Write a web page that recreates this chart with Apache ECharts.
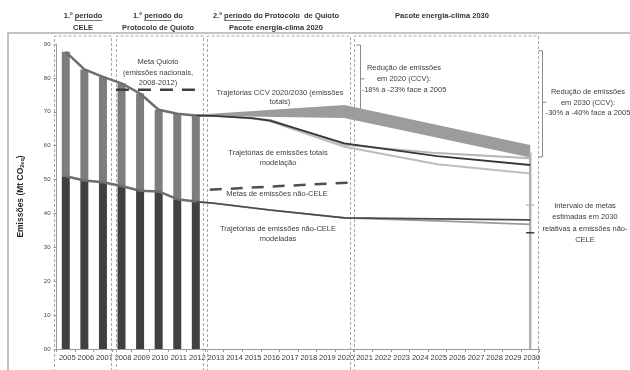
<!DOCTYPE html>
<html>
<head>
<meta charset="utf-8">
<script src="https://cdn.jsdelivr.net/npm/echarts@6/dist/echarts.min.js"></script>
<style>
  html, body { margin: 0; padding: 0; background: #ffffff; }
  #chart { width: 630px; height: 370px; }
</style>
</head>
<body>
<div id="chart"></div>
<script>
// ---- data (Mt CO2eq) ----
const categories = ['2005','2006','2007','2008','2009','2010','2011','2012','2013','2014','2015','2016','2017',
  '2018','2019','2020','2021','2022','2023','2024','2025','2026','2027','2028','2029','2030'];
const yTickLabels = ['00','10','20','30','40','50','60','70','80','90'];

const histYears   = [2005, 2006, 2007, 2008, 2009, 2010, 2011, 2012];
const totalHist   = [87.7, 82.5, 80.3, 78.4, 75.4, 70.6, 69.4, 68.9];
const nonCeleHist = [51.0, 49.7, 49.2, 48.1, 46.7, 46.5, 44.2, 43.5];

const ccvYears = [2012, 2020, 2030];
const ccvLow   = [68.8, 68.2, 56.5];
const ccvHigh  = [69.1, 72.0, 60.2];

const modelYears = [2012, 2013, 2015, 2016, 2020, 2025, 2030];
const modelDark  = [68.9, 68.8, 68.1, 67.4, 60.7, 56.9, 54.3];
const modelMid   = [68.9, 68.8, 68.1, 67.6, 60.3, 57.8, 56.3];
const modelLight = [68.9, 68.8, 68.1, 67.2, 59.7, 54.5, 51.8];

const nonCeleModelYears = [2012, 2013, 2016, 2020, 2025, 2030];
const nonCeleModelDark  = [43.5, 43.0, 41.0, 38.7, 38.4, 38.1];
const nonCeleModelLight = [43.5, 43.0, 41.0, 38.7, 37.8, 36.8];

const kyotoYears = [2008, 2012];
const kyotoTarget = 76.5;
const nonCeleTargetYears = [2013, 2020];
const nonCeleTarget = [47.0, 49.1];

const targetYear2030 = 2030;
const target2030Span = [0, 58];
const target2030Upper = 42.5;
const target2030Lower = 34.3;

// ---- helpers ----
const FONT = "'Liberation Sans Narrow', 'Liberation Sans', Arial, sans-serif";
const pairs = (xs, ys) => xs.map((x, i) => [x, ys[i]]);
const celeHist = totalHist.map((t, i) => +(t - nonCeleHist[i]).toFixed(1));
const pad = (arr) => categories.map((c) => {
  const i = histYears.indexOf(+c);
  return i >= 0 ? arr[i] : null;
});

function lineSeries(data, color, width, extra) {
  return Object.assign({
    type: 'line', xAxisIndex: 1, yAxisIndex: 0, data: data,
    showSymbol: false, symbol: 'none', silent: true,
    lineStyle: { color: color, width: width }
  }, extra || {});
}

const chart = echarts.init(document.getElementById('chart'), null, { renderer: 'canvas' });

const option = {
  animation: false,
  backgroundColor: '#ffffff',
  textStyle: { fontFamily: FONT },
  grid: { left: 56.5, right: 90.5, top: 44, bottom: 21 },
  xAxis: [
    {
      type: 'category', data: categories, boundaryGap: true,
      axisLine: { lineStyle: { color: '#9a9a9a', width: 1 } },
      axisTick: { show: true, length: 3, lineStyle: { color: '#9a9a9a' } },
      axisLabel: { color: '#3a3a3a', fontSize: 7.5, fontFamily: FONT, margin: 5, padding: [0, 0, 0, 3], interval: 0 }
    },
    { type: 'value', min: 2004.5, max: 2030.5, show: false }
  ],
  yAxis: {
    type: 'value', min: 0, max: 90, interval: 10,
    name: 'Emissões (Mt CO{sub|2eq})', nameLocation: 'middle', nameGap: 31, nameRotate: 90,
    nameTextStyle: {
      color: '#2a2a2a', fontSize: 8.5, fontWeight: 'bold', fontFamily: FONT,
      rich: { sub: { fontSize: 5.5, fontWeight: 'bold', verticalAlign: 'bottom', padding: [3, 0, 0, 0] } }
    },
    axisLine: { show: true, lineStyle: { color: '#9a9a9a' } },
    axisTick: { show: true, length: 3, lineStyle: { color: '#9a9a9a' } },
    splitLine: { show: false },
    axisLabel: { color: '#444', fontSize: 6, fontFamily: FONT, margin: 6,
      formatter: (v) => yTickLabels[Math.round(v / 10)] }
  },
  series: [
    { type: 'bar', name: 'não-CELE', stack: 'hist', data: pad(nonCeleHist), barWidth: 8,
      itemStyle: { color: '#404040' }, silent: true, z: 2 },
    { type: 'bar', name: 'CELE', stack: 'hist', data: pad(celeHist), barWidth: 8,
      itemStyle: { color: '#7d7d7d' }, silent: true, z: 2 },
    {
      type: 'custom', name: 'Trajetórias CCV', xAxisIndex: 1, yAxisIndex: 0,
      data: [[ccvYears[1], ccvHigh[1]]], silent: true, z: 3,
      renderItem: function (params, api) {
        const pts = [];
        ccvYears.forEach((y, i) => pts.push(api.coord([y, ccvHigh[i]])));
        for (let i = ccvYears.length - 1; i >= 0; i--) pts.push(api.coord([ccvYears[i], ccvLow[i]]));
        return { type: 'polygon', shape: { points: pts }, style: { fill: '#9c9c9c' } };
      }
    },
    lineSeries(pairs(histYears, totalHist), '#6e6e6e', 2.5, { z: 4 }),
    lineSeries(pairs(histYears, nonCeleHist), '#6e6e6e', 2.5, { z: 4 }),
    lineSeries(pairs(modelYears, modelMid), '#b4b4b4', 2, { z: 5 }),
    lineSeries(pairs(modelYears, modelLight), '#bdbdbd', 2, { z: 5 }),
    lineSeries(pairs(modelYears, modelDark), '#383838', 1.8, { z: 6 }),
    lineSeries(pairs(nonCeleModelYears, nonCeleModelLight), '#9a9a9a', 1.8, { z: 5 }),
    lineSeries(pairs(nonCeleModelYears, nonCeleModelDark), '#4a4a4a', 1.6, { z: 6 }),
    // Kyoto target (national emissions 2008-2012)
    lineSeries([[kyotoYears[0] - 0.3, kyotoTarget], [kyotoYears[1] + 0.33, kyotoTarget]], '#404040', 2.5,
      { lineStyle: { color: '#404040', width: 2.5, type: [13, 9] }, z: 7 }),
    // non-CELE targets
    lineSeries([[nonCeleTargetYears[0] - 0.25, nonCeleTarget[0]], [nonCeleTargetYears[1] + 0.2, nonCeleTarget[1]]], '#505050', 2.5,
      { lineStyle: { color: '#505050', width: 2.5, type: [12, 9] }, z: 7 }),
    // 2030 interval of non-CELE targets
    lineSeries([[targetYear2030, target2030Span[0]], [targetYear2030, target2030Span[1]]], '#b0b0b0', 2.5, { z: 4 }),
    lineSeries([[targetYear2030 - 0.22, target2030Upper], [targetYear2030 + 0.22, target2030Upper]], '#bdbdbd', 1.5, { z: 8 }),
    lineSeries([[targetYear2030 - 0.22, target2030Lower], [targetYear2030 + 0.22, target2030Lower]], '#3a3a3a', 1.5, { z: 8 })
  ]
};
chart.setOption(option);

// ---- period boxes, frame, brackets and notes ----
const px = (year) => chart.convertToPixel({ xAxisIndex: 1 }, year);
const py = (v) => chart.convertToPixel({ yAxisIndex: 0 }, v);

const periodBounds = [[2004.36, 2007.43], [2007.70, 2012.37], [2012.59, 2020.30], [2020.51, 2030.42]];
const boxTop = 36, boxBottom = 372;
const graphics = [];
const dashStyle = { stroke: '#a8a8a8', lineWidth: 1, lineDash: [3, 2] };

periodBounds.forEach(([a, b]) => {
  const x1 = Math.round(px(a)) + 0.5, x2 = Math.round(px(b)) + 0.5;
  graphics.push({ type: 'polyline', silent: true, z: 1,
    shape: { points: [[x1, boxBottom], [x1, boxTop], [x2, boxTop], [x2, boxBottom]] }, style: Object.assign({ fill: null }, dashStyle) });
});

// outer frame
graphics.push({ type: 'polyline', silent: true, shape: { points: [[8, 372], [8, 33], [632, 33]] },
  style: { stroke: '#b0b0b0', lineWidth: 1.5, fill: null } });

// brackets
function bracket(year, vTop, vBottom, vMid, hook, notch) {
  const x = Math.round(px(year)) + 0.5, yt = py(vTop), yb = py(vBottom), ym = py(vMid);
  graphics.push({ type: 'polyline', silent: true, shape: { points: [[x - hook, yt], [x, yt], [x, yb], [x - hook, yb]] },
    style: { stroke: '#8a8a8a', lineWidth: 1, fill: null } });
  graphics.push({ type: 'line', silent: true, shape: { x1: x, y1: ym, x2: x + notch, y2: ym },
    style: { stroke: '#8a8a8a', lineWidth: 1 } });
}
bracket(2020.84, 89.7, 69.6, 79.7, 4, 4);
bracket(2030.66, 88.0, 56.7, 72.8, 4, 4);

// notes
function note(x, y, text, opts) {
  graphics.push({ type: 'text', silent: true, z: 20, x: x, y: y,
    style: Object.assign({ text: text, fill: '#3c3c3c', font: '7.5px ' + FONT, textAlign: 'center', textVerticalAlign: 'top', lineHeight: 10.5 }, opts || {}) });
}
note(158, 57, 'Meta Quioto\n(emissões nacionais,\n2008-2012)');
note(280, 88, 'Trajetórias CCV 2020/2030 (emissões\ntotais)', { lineHeight: 9.5 });
note(278, 148, 'Trajetórias de emissões totais\nmodelação', { lineHeight: 10 });
note(277, 189, 'Metas de emissões não-CELE');
note(278, 224, 'Trajetórias de emissões não-CELE\nmodeladas', { lineHeight: 10 });
note(404, 62, 'Redução de emissões\nem 2020 (CCV):\n-18% a -23% face a 2005', { lineHeight: 11 });
note(588, 87, 'Redução de emissões\nem 2030 (CCV):\n-30% a -40% face a 2005', { lineHeight: 10.5 });
note(585, 200, 'Intervalo de metas\nestimadas em 2030\nrelativas a emissões não-\nCELE', { lineHeight: 11.5 });

// period headers with the word "período" underlined
const headerFont = 'bold 7.5px ' + FONT;
const measureCtx = document.createElement('canvas').getContext('2d');
measureCtx.font = headerFont;
function header(cx, y, lines) {
  lines.forEach((ln, i) => {
    const yy = y + i * 11.5;
    graphics.push({ type: 'text', silent: true, x: cx, y: yy,
      style: { text: ln, fill: '#333', font: headerFont, textAlign: 'center', textVerticalAlign: 'middle' } });
    const k = ln.indexOf('período');
    if (k >= 0) {
      const full = measureCtx.measureText(ln).width;
      const before = measureCtx.measureText(ln.slice(0, k)).width;
      const word = measureCtx.measureText('período').width;
      const x0 = cx - full / 2 + before;
      graphics.push({ type: 'line', silent: true, shape: { x1: x0, y1: yy + 4.5, x2: x0 + word, y2: yy + 4.5 },
        style: { stroke: '#555', lineWidth: 0.8 } });
    }
  });
}
header(83, 16, ['1.º período', 'CELE']);
header(158, 16, ['1.º período do', 'Protocolo de Quioto']);
header(276, 16, ['2.º período do Protocolo  de Quioto', 'Pacote energia-clima 2020']);
header(442, 16, ['Pacote energia-clima 2030']);

chart.setOption({ graphic: { elements: graphics } });
</script>
</body>
</html>
